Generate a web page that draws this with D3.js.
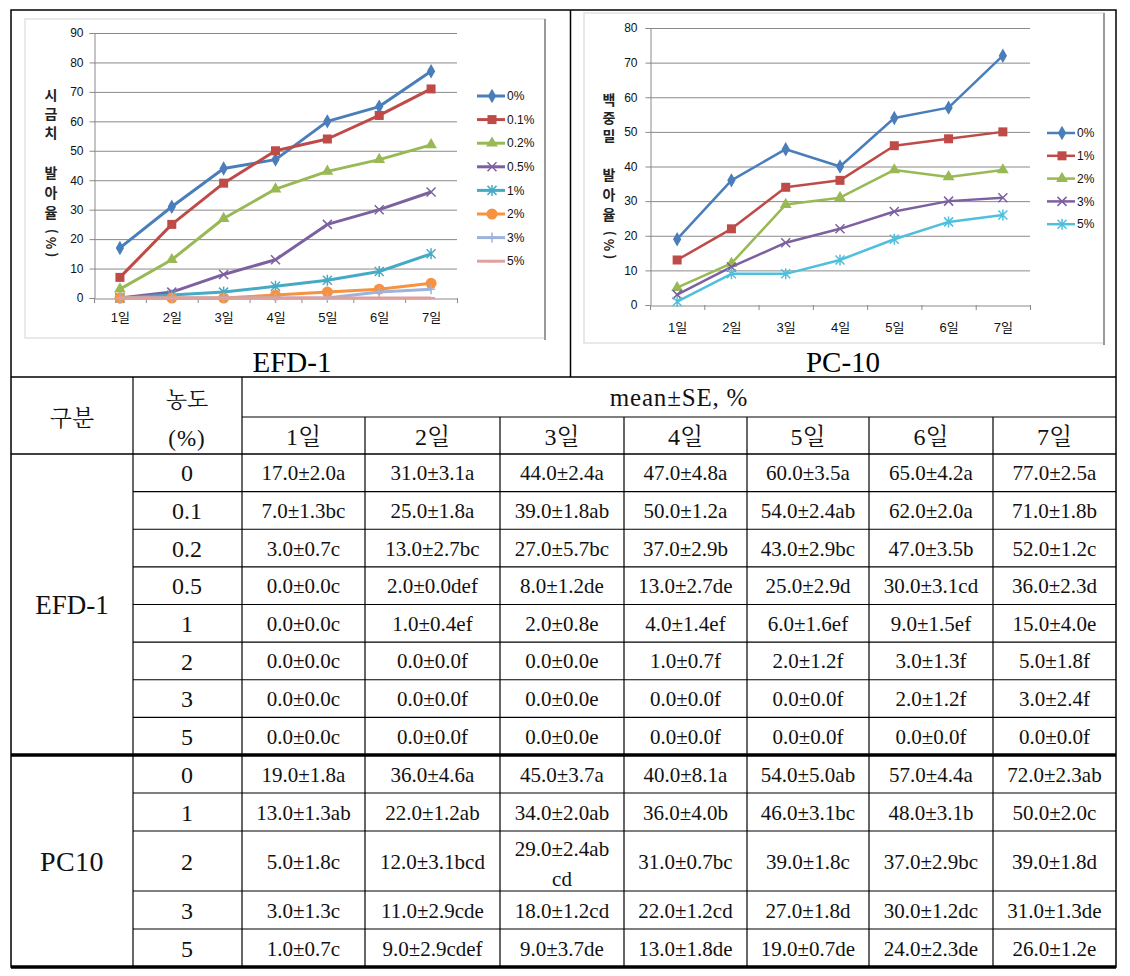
<!DOCTYPE html>
<html><head><meta charset="utf-8">
<script src="https://cdn.jsdelivr.net/npm/d3@7"></script>
<style>body{margin:0;background:#fff} svg{display:block}</style>
</head><body><svg id="c" width="1130" height="976"></svg>
<script>
// ---------- data ----------
const days = ["1일","2일","3일","4일","5일","6일","7일"];

const efdLegend = ["0%","0.1%","0.2%","0.5%","1%","2%","3%","5%"];
const efd0  = [17,31,44,47,60,65,77];
const efd01 = [7,25,39,50,54,62,71];
const efd02 = [3,13,27,37,43,47,52];
const efd05 = [0,2,8,13,25,30,36];
const efd1  = [0,1,2,4,6,9,15];
const efd2  = [0,0,0,1,2,3,5];
const efd3  = [0,0,0,0,0,2,3];
const efd5  = [0,0,0,0,0,0,0];
const efdTicks = [0,10,20,30,40,50,60,70,80,90];

const pcLegend = ["0%","1%","2%","3%","5%"];
const pc0 = [19,36,45,40,54,57,72];
const pc1 = [13,22,34,36,46,48,50];
const pc2 = [5,12,29,31,39,37,39];
const pc3 = [3,11,18,22,27,30,31];
const pc5 = [1,9,9,13,19,24,26];
const pcTicks = [0,10,20,30,40,50,60,70,80];

// table
const tableGroups = ["EFD-1","PC10"];
const efdConc = ["0","0.1","0.2","0.5","1","2","3","5"];
const efdRow0  = ["17.0±2.0a","31.0±3.1a","44.0±2.4a","47.0±4.8a","60.0±3.5a","65.0±4.2a","77.0±2.5a"];
const efdRow01 = ["7.0±1.3bc","25.0±1.8a","39.0±1.8ab","50.0±1.2a","54.0±2.4ab","62.0±2.0a","71.0±1.8b"];
const efdRow02 = ["3.0±0.7c","13.0±2.7bc","27.0±5.7bc","37.0±2.9b","43.0±2.9bc","47.0±3.5b","52.0±1.2c"];
const efdRow05 = ["0.0±0.0c","2.0±0.0def","8.0±1.2de","13.0±2.7de","25.0±2.9d","30.0±3.1cd","36.0±2.3d"];
const efdRow1  = ["0.0±0.0c","1.0±0.4ef","2.0±0.8e","4.0±1.4ef","6.0±1.6ef","9.0±1.5ef","15.0±4.0e"];
const efdRow2  = ["0.0±0.0c","0.0±0.0f","0.0±0.0e","1.0±0.7f","2.0±1.2f","3.0±1.3f","5.0±1.8f"];
const efdRow3  = ["0.0±0.0c","0.0±0.0f","0.0±0.0e","0.0±0.0f","0.0±0.0f","2.0±1.2f","3.0±2.4f"];
const efdRow5  = ["0.0±0.0c","0.0±0.0f","0.0±0.0e","0.0±0.0f","0.0±0.0f","0.0±0.0f","0.0±0.0f"];
const pcConc = ["0","1","2","3","5"];
const pcRow0 = ["19.0±1.8a","36.0±4.6a","45.0±3.7a","40.0±8.1a","54.0±5.0ab","57.0±4.4a","72.0±2.3ab"];
const pcRow1 = ["13.0±1.3ab","22.0±1.2ab","34.0±2.0ab","36.0±4.0b","46.0±3.1bc","48.0±3.1b","50.0±2.0c"];
const pcRow2 = ["5.0±1.8c","12.0±3.1bcd","29.0±2.4ab\ncd","31.0±0.7bc","39.0±1.8c","37.0±2.9bc","39.0±1.8d"];
const pcRow3 = ["3.0±1.3c","11.0±2.9cde","18.0±1.2cd","22.0±1.2cd","27.0±1.8d","30.0±1.2dc","31.0±1.3de"];
const pcRow5 = ["1.0±0.7c","9.0±2.9cdef","9.0±3.7de","13.0±1.8de","19.0±0.7de","24.0±2.3de","26.0±1.2e"];

// ---------- drawing ----------
const svg = d3.select("#c");
svg.append("rect").attr("width",1130).attr("height",976).attr("fill","#fff");
const SANS = "'Liberation Sans','Noto Sans CJK KR',sans-serif";
const SERIF = "'Liberation Serif','Noto Serif CJK KR','Noto Sans CJK KR',serif";

function drawMarker(g, type, x, y, color, s) {
  s = s || 1;
  const t = `translate(${x},${y})`;
  if (type === "diamond") g.append("path").attr("d", d3.symbol(d3.symbolDiamond, 60*s)()).attr("transform", t).attr("fill", color);
  else if (type === "square") g.append("rect").attr("x", x-4.5*s).attr("y", y-4.5*s).attr("width", 9*s).attr("height", 9*s).attr("fill", color);
  else if (type === "triangle") g.append("path").attr("d", d3.symbol(d3.symbolTriangle, 60*s)()).attr("transform", t).attr("fill", color);
  else if (type === "x") g.append("path").attr("d", "M-4.5,-4.5L4.5,4.5M-4.5,4.5L4.5,-4.5").attr("transform", t).attr("stroke", color).attr("stroke-width", 1.5).attr("fill","none");
  else if (type === "star") g.append("path").attr("d", "M-4.5,-4.5L4.5,4.5M-4.5,4.5L4.5,-4.5M0,-5.5V5.5").attr("transform", t).attr("stroke", color).attr("stroke-width", 1.5).attr("fill","none");
  else if (type === "circle") g.append("circle").attr("cx", x).attr("cy", y).attr("r", 5.5*s).attr("fill", color);
  else if (type === "plus") g.append("path").attr("d", "M-4,0H4M0,-5V5").attr("transform", t).attr("stroke", color).attr("stroke-width", 1.5).attr("fill","none");
  else if (type === "dash") g.append("path").attr("d", "M-4,0H4").attr("transform", t).attr("stroke", color).attr("stroke-width", 2).attr("fill","none");
}

function drawChart(cfg) {
  const g = svg.append("g");
  g.append("rect").attr("x", cfg.frame[0]).attr("y", cfg.frame[1]).attr("width", cfg.frame[2]-cfg.frame[0]).attr("height", cfg.frame[3]-cfg.frame[1])
    .attr("fill","#fff").attr("stroke","#e2e2e2").attr("stroke-width",1.5);
  g.append("line").attr("x1", cfg.frame[2]).attr("x2", cfg.frame[2]).attr("y1", cfg.frame[1]).attr("y2", cfg.frame[3]+2).attr("stroke","#9a9a9a").attr("stroke-width",2);

  const x = d3.scalePoint().domain(cfg.cats).range([cfg.x0, cfg.x1]).padding(0.5);
  const xb = d3.scaleBand().domain(cfg.cats).range([cfg.x0, cfg.x1]);
  const y = d3.scaleLinear().domain([0, cfg.ymax]).range([cfg.y0, cfg.y1]);

  g.selectAll(".grid").data(cfg.ticks.slice(1)).enter().append("line")
    .attr("x1", cfg.x0).attr("x2", cfg.x1).attr("y1", d=>y(d)+0.5).attr("y2", d=>y(d)+0.5)
    .attr("stroke","#8a8a8a").attr("stroke-width",1);
  const ya = d3.axisLeft(y).tickValues(cfg.ticks).tickSize(5).tickPadding(cfg.tickPad);
  const yg = g.append("g").attr("transform", `translate(${cfg.x0+0.5},0)`).call(ya);
  yg.select(".domain").attr("stroke","#8a8a8a");
  yg.selectAll(".tick line").attr("stroke","#8a8a8a");
  yg.selectAll("text").attr("font-family", SANS).attr("font-size", cfg.tickFont).attr("fill","#111");
  const xa = d3.axisBottom(x).tickSize(0).tickPadding(cfg.xPad);
  const xg = g.append("g").attr("transform", `translate(0,${cfg.y0+0.5})`).call(xa);
  xg.select(".domain").attr("stroke","#8a8a8a");
  xg.selectAll("text").attr("font-family", SANS).attr("font-size", cfg.xFont).attr("fill","#111");
  const edges = cfg.cats.map(c => xb(c)).concat([cfg.x1]);
  g.selectAll(".xt").data(edges).enter().append("line")
    .attr("x1", d=>d+0.5).attr("x2", d=>d+0.5).attr("y1", cfg.y0).attr("y2", cfg.y0+5)
    .attr("stroke","#8a8a8a");

  const line = d3.line().x((d,i)=>x(cfg.cats[i])).y(d=>y(d));
  cfg.series.forEach(s => {
    g.append("path").datum(s.values).attr("d", line).attr("fill","none")
      .attr("stroke", s.color).attr("stroke-width", cfg.lw).attr("stroke-linejoin","round");
    s.values.forEach((v,i) => drawMarker(g, s.marker, x(cfg.cats[i]), y(v), s.mcolor || s.color));
  });

  cfg.series.forEach((s,i) => {
    const ly = cfg.legY[0] + i*cfg.legY[1];
    g.append("line").attr("x1", cfg.legX).attr("x2", cfg.legX+28).attr("y1", ly).attr("y2", ly)
      .attr("stroke", s.color).attr("stroke-width", cfg.lw);
    drawMarker(g, s.marker, cfg.legX+15, ly, s.mcolor || s.color);
    g.append("text").attr("x", cfg.legX+30).attr("y", ly).attr("dy","0.35em")
      .attr("font-family", SANS).attr("font-size", 12).attr("fill","#111").text(s.name);
  });

  cfg.titleTop.forEach((ch,i) => {
    g.append("text").attr("x", cfg.tx).attr("y", cfg.tTop[0] + i*cfg.tTop[1]).attr("dy","0.35em").attr("text-anchor","middle")
      .attr("font-family", "'Noto Sans CJK KR',sans-serif").attr("font-weight","bold").attr("font-size", 14).attr("fill","#222").text(ch);
  });
  cfg.titleBot.forEach((ch,i) => {
    g.append("text").attr("x", cfg.tx).attr("y", cfg.tBot[0] + i*cfg.tBot[1]).attr("dy","0.35em").attr("text-anchor","middle")
      .attr("font-family", "'Noto Sans CJK KR',sans-serif").attr("font-weight","bold").attr("font-size", 14).attr("fill","#222").text(ch);
  });
  g.append("text").attr("transform", `translate(${cfg.tx},${cfg.tBot[0] + cfg.titleBot.length*cfg.tBot[1] + 10}) rotate(-90)`)
    .attr("dy","0.35em").attr("text-anchor","middle")
    .attr("font-family", "'Noto Sans CJK KR',sans-serif").attr("font-weight","bold").attr("font-size", 13).attr("fill","#222").text("( % )");

  g.append("text").attr("x", cfg.capX).attr("y", 362).attr("dy","0.35em").attr("text-anchor","middle")
    .attr("font-family", SERIF).attr("font-size", 29).attr("fill","#000").text(cfg.caption);
}

const efdColors = ["#4a7ebb","#be4b48","#98b954","#7d60a0","#46aac5","#f69240","#9db3dc","#dfa19e"];
const efdMarkers = ["diamond","square","triangle","x","star","circle","plus","dash"];
const efdVals = [efd0, efd01, efd02, efd05, efd1, efd2, efd3, efd5];
drawChart({
  frame:[25,19,545,338], cats: days, x0:94, x1:457, y0:298, y1:33, ymax:90, ticks: efdTicks,
  tickPad:6, tickFont:12, xPad:14, xFont:13, lw:3,
  series: efdLegend.map((n,i)=>({name:n, values:efdVals[i], color:efdColors[i], marker:efdMarkers[i]})),
  legX:477, legY:[96,23.6],
  tx:51, titleTop:["시","금","치"], tTop:[95,19], titleBot:["발","아","율"], tBot:[173,20],
  capX:292, caption:"EFD-1"
});

const pcColors = ["#4a7ebb","#be4b48","#98b954","#7d60a0","#4fbfdc"];
const pcMarkers = ["diamond","square","triangle","x","star"];
const pcVals = [pc0, pc1, pc2, pc3, pc5];
drawChart({
  frame:[584,13,1104,343], cats: days, x0:650, x1:1030, y0:305, y1:28, ymax:80, ticks: pcTicks,
  tickPad:8, tickFont:12, xPad:17, xFont:13, lw:2.5,
  series: pcLegend.map((n,i)=>({name:n, values:pcVals[i], color:pcColors[i], marker:pcMarkers[i]})),
  legX:1047, legY:[133,22.8],
  tx:609, titleTop:["백","중","밀"], tTop:[100,18], titleBot:["발","아","율"], tBot:[175,20],
  capX:843, caption:"PC-10"
});

// ---------- table ----------
const T = svg.append("g");
const colX = [11,133,242,365,500,624,747,869,993,1116];
const efdRows = [efdRow0, efdRow01, efdRow02, efdRow05, efdRow1, efdRow2, efdRow3, efdRow5];
const pcRows = [pcRow0, pcRow1, pcRow2, pcRow3, pcRow5];
const efdY = d3.range(9).map(i => 454 + i*(755-454)/8);
const pcY = [755,793,831,891,929,967];

function hline(x1,x2,y,w){ T.append("line").attr("x1",x1).attr("x2",x2).attr("y1",y).attr("y2",y).attr("stroke","#000").attr("stroke-width",w||1.2); }
function vline(x,y1,y2,w){ T.append("line").attr("x1",x).attr("x2",x).attr("y1",y1).attr("y2",y2).attr("stroke","#000").attr("stroke-width",w||1.2); }
function txt(x,y,s,size,ls){ T.append("text").attr("x",x).attr("y",y).attr("dy","0.36em").attr("text-anchor","middle")
  .attr("font-family",SERIF).attr("font-size",size).attr("letter-spacing", ls||0).attr("fill","#111").text(s); }

svg.append("rect").attr("x",11).attr("y",10).attr("width",1105).attr("height",957).attr("fill","none").attr("stroke","#000").attr("stroke-width",1.5);
vline(570.5,10,377,1.5);
hline(11,1116,377,1.5);

hline(242,1116,417);
hline(11,1116,454,1.5);
vline(133,377,967); vline(242,377,967);
colX.slice(3,9).forEach(x => vline(x,417,967));
txt(72,418,"구분",23);
txt(187,399,"농도",22);
txt(187,438,"(%)",23,1);
txt(679,397,"mean±SE, %",25,0.8);
days.forEach((d,i) => txt((colX[i+2]+colX[i+3])/2, 436, d, 24));

efdY.slice(1,8).forEach(y => hline(133,1116,y));
txt(72,604,tableGroups[0],27);
efdRows.forEach((row,r) => {
  const cy = (efdY[r]+efdY[r+1])/2;
  txt(187, cy, efdConc[r], 24);
  row.forEach((c,i) => txt((colX[i+2]+colX[i+3])/2, cy, c, 21, 0));
});
hline(11,1116,755,3.5);

pcY.slice(1,5).forEach(y => hline(133,1116,y));
txt(72,861,tableGroups[1],28,0.5);
pcRows.forEach((row,r) => {
  const cy = (pcY[r]+pcY[r+1])/2;
  txt(187, cy, pcConc[r], 24);
  row.forEach((c,i) => {
    const cx = (colX[i+2]+colX[i+3])/2;
    const parts = c.split("\n");
    if (parts.length === 1) txt(cx, cy, c, 21, 0);
    else parts.forEach((p,k) => txt(cx, cy - 13 + k*30, p, 21, 0));
  });
});
hline(11,1116,967,3.5);
</script></body></html>
